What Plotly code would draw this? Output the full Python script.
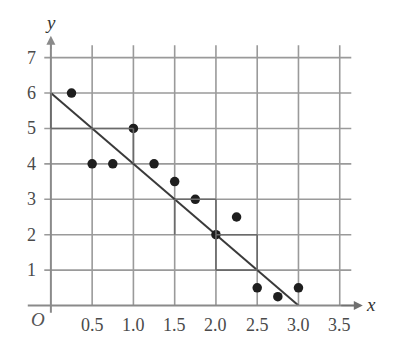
import plotly.graph_objects as go

# data
xs = [0.25, 0.5, 0.75, 1.0, 1.25, 1.5, 1.75, 2.0, 2.25, 2.5, 2.75, 3.0]
ys = [6, 4, 4, 5, 4, 3.5, 3, 2, 2.5, 0.5, 0.25, 0.5]
line_x = [0, 3]
line_y = [6, 0]
xticks = [0.5, 1.0, 1.5, 2.0, 2.5, 3.0, 3.5]
xtick_labels = ["0.5", "1.0", "1.5", "2.0", "2.5", "3.0", "3.5"]
yticks = [1, 2, 3, 4, 5, 6, 7]
# slope-step segments (x0, y0, x1, y1)
steps = [
    (0, 5, 0.5, 5), (0, 5, 0, 6),
    (0.5, 5, 1.0, 5), (1.0, 4, 1.0, 5),
    (1.5, 3, 2.0, 3), (2.0, 2, 2.0, 3), (1.5, 2, 1.5, 3),
    (2.0, 2, 2.5, 2), (2.5, 1, 2.5, 2), (2.0, 1, 2.0, 2), (2.0, 1, 2.5, 1),
]

GRID = "#9a9a9a"
fig = go.Figure()
shapes = []
for t in xticks:
    shapes.append(dict(type="line", x0=t, x1=t, y0=0, y1=7.35, line=dict(color=GRID, width=1.6), layer="below"))
for t in yticks:
    shapes.append(dict(type="line", x0=-0.08, x1=3.64, y0=t, y1=t, line=dict(color=GRID, width=1.6), layer="below"))
# axes
shapes.append(dict(type="line", x0=-0.28, x1=3.7, y0=0, y1=0, line=dict(color="#8a8a8a", width=2)))
shapes.append(dict(type="line", x0=0, x1=0, y0=-0.2, y1=7.5, line=dict(color="#8a8a8a", width=2)))
for s in steps:
    shapes.append(dict(type="line", x0=s[0], y0=s[1], x1=s[2], y1=s[3], line=dict(color="#6a6a6a", width=1.6)))

fig.add_trace(go.Scatter(x=line_x, y=line_y, mode="lines", line=dict(color="#3a3a3a", width=2), hoverinfo="skip"))
fig.add_trace(go.Scatter(x=xs, y=ys, mode="markers", marker=dict(color="#1e1e1e", size=9.5), hoverinfo="skip"))

ann = []
F = dict(family="Liberation Serif", size=18, color="#4a4a4a")
for t, lab in zip(xticks, xtick_labels):
    ann.append(dict(x=t, y=-0.55, text=lab, showarrow=False, font=F, xanchor="center", yanchor="middle"))
for t in yticks:
    ann.append(dict(x=-0.23, y=t, text=str(t), showarrow=False, font=F, xanchor="center", yanchor="middle"))
ann.append(dict(x=-0.16, y=-0.4, text="<i>O</i>", showarrow=False, font=dict(family="Liberation Serif", size=19, color="#555")))
ann.append(dict(x=0.0, y=8.0, text="<i>y</i>", showarrow=False, font=dict(family="Liberation Serif", size=19, color="#333")))
ann.append(dict(x=3.88, y=0.02, text="<i>x</i>", showarrow=False, font=dict(family="Liberation Serif", size=19, color="#333")))
# arrows
ann.append(dict(x=0, y=7.62, ax=0, ay=7.2, xref="x", yref="y", axref="x", ayref="y", showarrow=True,
                arrowhead=2, arrowsize=1.2, arrowwidth=1.5, arrowcolor="#8a8a8a", text=""))
ann.append(dict(x=3.78, y=0, ax=3.5, ay=0, xref="x", yref="y", axref="x", ayref="y", showarrow=True,
                arrowhead=2, arrowsize=1.2, arrowwidth=1.5, arrowcolor="#707070", text=""))

fig.update_layout(
    width=396, height=342, margin=dict(l=22, r=15, t=8, b=1),
    paper_bgcolor="white", plot_bgcolor="white", showlegend=False,
    xaxis=dict(range=[-0.35, 4.0], visible=False),
    yaxis=dict(range=[-1.0, 8.4], visible=False),
    shapes=shapes, annotations=ann,
)
fig.write_html("out.html")
